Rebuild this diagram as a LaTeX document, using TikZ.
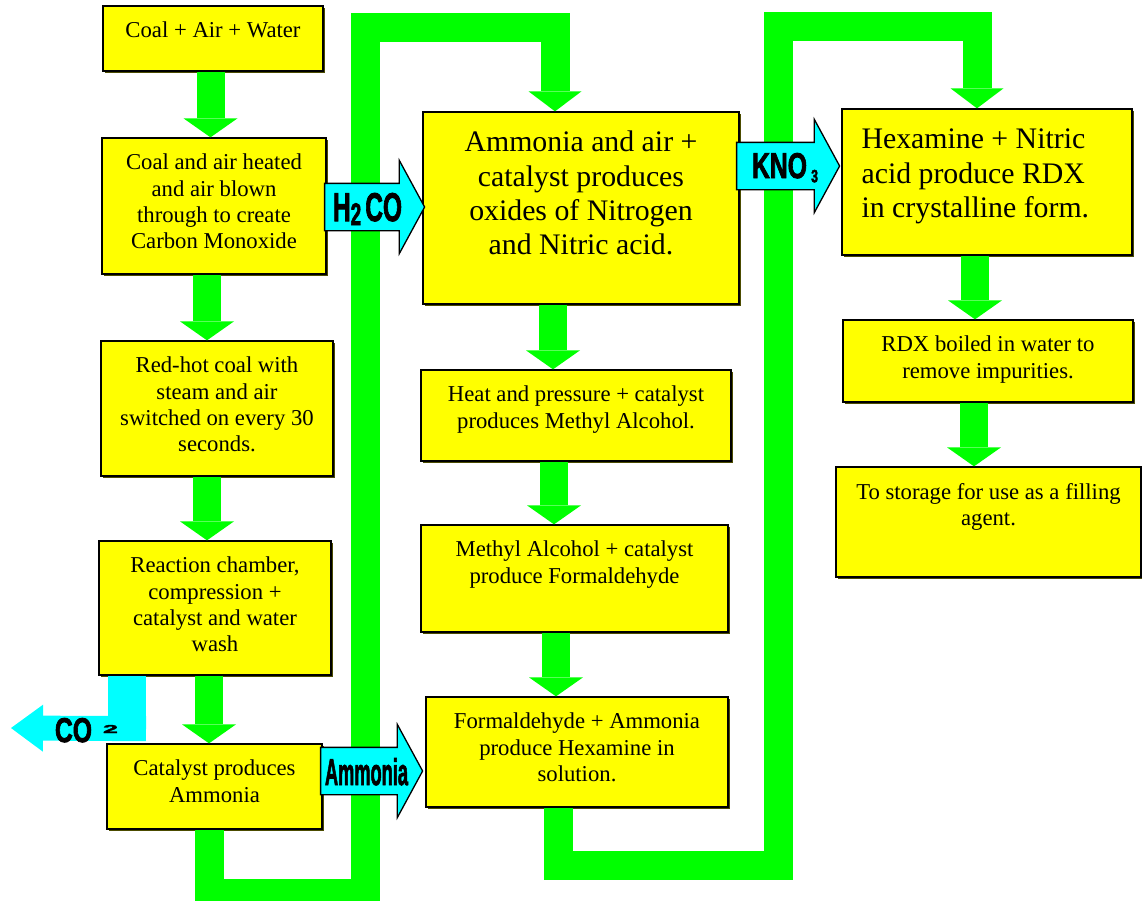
\documentclass[tikz,border=0pt]{standalone}
\usepackage{fontspec}
\setmainfont{Liberation Serif}
\newfontfamily\tagfont[FakeBold=2.5]{Liberation Sans}
\usetikzlibrary{positioning}
\usetikzlibrary{arrows.meta,shapes.arrows}
\usetikzlibrary{shadows}
\definecolor{boxyellow}{RGB}{255,255,0}
\definecolor{pipegreen}{RGB}{0,255,0}
\definecolor{gascyan}{RGB}{0,255,255}
\tikzstyle{stage}=[rectangle,fill=boxyellow,draw=black,line width=1.3pt,drop shadow={shadow xshift=1.5pt,shadow yshift=-1.5pt,fill=black!70!boxyellow,opacity=1}]
\tikzstyle{smalltext}=[inner sep=0pt,align=center,font=\fontsize{22.7}{26.3}\selectfont]
\tikzstyle{bigtext}=[inner sep=0pt,align=center,font=\fontsize{29.8}{34.3}\selectfont]
\tikzstyle{flow}=[draw=pipegreen,line width=28pt,-{Triangle[length=19pt,width=54pt,line width=0pt]}]
\tikzstyle{pipe}=[draw=pipegreen,line width=29pt,-{Triangle[length=20pt,width=53pt,line width=0pt]}]
\tikzstyle{chem}=[single arrow,fill=gascyan,draw=black,line width=1.3pt,inner sep=0pt,minimum width=0pt,text height=46pt,text depth=0pt,single arrow head extend=23pt,single arrow tip angle=123]
\tikzstyle{chemtag}=[inner sep=0pt,anchor=base,font=\tagfont\bfseries]

\begin{document}
\begin{tikzpicture}[x=1pt,y=-1pt]
  \useasboundingbox (0,0) rectangle (1142,900);

  \foreach \pos/\name/\w/\h in {{(213,38.5)/coal/220/65}, {(214,206)/heated/224/136}, {(217,408.5)/redhot/232/135}, {(215,608)/react/232/134}, {(214.5,786.5)/ammonia/215/85}, {(581,208)/oxides/316/192}, {(576,415.5)/methyl/310/91}, {(574.5,578.5)/formal/307/107}, {(577,752)/hexsol/302/110}, {(987,182)/rdx/290/146}, {(988,361)/boil/290/82}, {(988.5,522)/store/305/110}}
    \node[stage,minimum width=\w pt,minimum height=\h pt] (\name) at \pos {};

  \node[smalltext,below=16.5pt of coal.north] {Coal + Air + Water};
  \node[smalltext,below=16.5pt of heated.north] {Coal and air heated\\and air blown\\through to create\\Carbon Monoxide};
  \node[smalltext,below=16.5pt of redhot.north] {Red-hot coal with\\steam and air\\switched on every 30\\seconds.};
  \node[smalltext,below=16.5pt of react.north] {Reaction chamber,\\compression +\\catalyst and water\\wash};
  \node[smalltext,below=16.5pt of ammonia.north] {Catalyst produces\\Ammonia};
  \node[bigtext,below=19.5pt of oxides.north] {Ammonia and air +\\catalyst produces\\oxides of Nitrogen\\and Nitric acid.};
  \node[smalltext,below=16.5pt of methyl.north] {Heat and pressure + catalyst\\produces Methyl Alcohol.};
  \node[smalltext,below=16.5pt of formal.north] {Methyl Alcohol + catalyst\\produce Formaldehyde};
  \node[smalltext,below=16.5pt of hexsol.north] {Formaldehyde + Ammonia\\produce Hexamine in\\solution.};
  \node[bigtext,align=left,below right=20.5pt and 20pt of rdx.north west] {Hexamine + Nitric\\acid produce RDX\\in crystalline form.};
  \node[smalltext,below=16.5pt of boil.north] {RDX boiled in water to\\remove impurities.};
  \node[smalltext,below=16.5pt of store.north] {To storage for use as a filling\\agent.};

  % green flow
  \draw[flow] ([xshift=-2.5pt]coal.south) -- ([xshift=-3.5pt]heated.north);
  \draw[flow] ([xshift=-7pt]heated.south) -- ([xshift=-10pt]redhot.north);
  \draw[flow] ([xshift=-10pt]redhot.south) -- ([xshift=-8pt]react.north);
  \draw[flow] ([xshift=-6pt]react.south) -- ([xshift=-5.5pt]ammonia.north);
  \draw[flow] ([xshift=-28pt]oxides.south) -- ([xshift=-23pt]methyl.north);
  \draw[flow] ([xshift=-22pt]methyl.south) -- ([xshift=-20.5pt]formal.north);
  \draw[flow] ([xshift=-18.5pt]formal.south) -- ([xshift=-21pt]hexsol.north);
  \draw[flow] ([xshift=-12pt]rdx.south) -- ([xshift=-13pt]boil.north);
  \draw[flow] ([xshift=-14pt]boil.south) -- ([xshift=-14.5pt]store.north);

  \draw[pipe] ([xshift=-5.5pt,yshift=-0.7pt]ammonia.south) -- ++(0,63) -| (365,27) -| ([xshift=-26pt]oxides.north);
  \draw[pipe] ([xshift=-19pt,yshift=-0.7pt]hexsol.south) -- ++(0,57) -| (778,26) -| ([xshift=-10pt]rdx.north);

  % waste gas
  \coordinate (co2end) at (11,728);
  \draw[draw=gascyan,line width=38pt] ([xshift=-88pt,yshift=-0.7pt]react.south) -- ++(0,65);
  \draw[draw=gascyan,line width=25pt,-{Triangle[length=32pt,width=47pt,line width=0pt]}] ([xshift=-69pt,yshift=-53pt]react.south) -- (co2end);
  \node[chemtag] at (73.5,742) {\resizebox{37pt}{24pt}{CO}};
  \node[chemtag] at (110.5,733) {\resizebox{15pt}{8pt}{2}};

  % chemicals passed across
  \node[chem,minimum height=100pt,anchor=tip] (h2co) at ([xshift=3pt,yshift=1pt]oxides.west) {};
  \node[chem,minimum height=102pt,anchor=tip] (nh3) at ([xshift=-2pt,yshift=-19pt]hexsol.west) {};
  \node[chem,minimum height=103pt,anchor=tip] (kno3) at ([xshift=-1pt,yshift=16pt]rdx.west) {};
  \node[chemtag] at (367.5,221) {\resizebox{69pt}{28pt}{H\raisebox{-0.1em}{\scalebox{0.78}{2}}\,CO}};
  \node[chemtag] at (366.5,785) {\resizebox{83pt}{27pt}{Ammonia}};
  \node[chemtag] at (785,178) {\resizebox{66pt}{25pt}{KNO\,\raisebox{-0.12em}{\scalebox{0.5}{3}}}};

\end{tikzpicture}
\end{document}
